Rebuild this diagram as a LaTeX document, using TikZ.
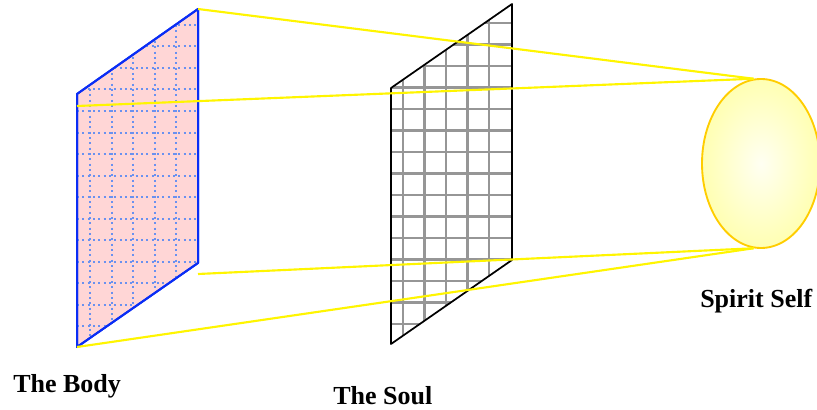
\documentclass[tikz,border=0pt]{standalone}
\usepackage{fontspec}
\setmainfont{Liberation Serif}
\usepackage{xcolor}
\usetikzlibrary{shapes.geometric}
\definecolor{bodyblue}{RGB}{10,45,245}
\definecolor{bodypink}{RGB}{255,214,214}
\definecolor{dotblue}{RGB}{105,145,240}
\definecolor{soulgray}{RGB}{150,150,150}
\definecolor{rayyellow}{RGB}{255,245,0}
\definecolor{spiritedge}{RGB}{255,205,0}
\tikzset{
  bodypanel/.style={draw=bodyblue, fill=bodypink, line width=1.5pt, line join=round},
  bodygrid/.style={dotblue, line width=1.5pt, dash pattern=on 1.6pt off 2.4pt},
  soulpanel/.style={draw=black, line width=1.3pt, line join=round},
  soulgrid/.style={soulgray, line width=1.8pt},
  ray/.style={rayyellow, line width=1.6pt},
  spiritball/.style={ellipse, draw=spiritedge, line width=1.4pt, inner color=yellow!5,
    outer color=yellow!30, minimum width=88.5pt, minimum height=126.75pt, inner sep=0pt},
  caption/.style={font=\fontsize{19.5}{23}\selectfont\bfseries, anchor=base west, inner sep=0pt},
}

\begin{document}
\begin{tikzpicture}[x=0.75pt, y=-0.75pt]
  \useasboundingbox (0,0) rectangle (817,410);

  % the body
  \coordinate (body-tl) at (77,94);
  \coordinate (body-tr) at (198,9);
  \coordinate (body-br) at (198,263);
  \coordinate (body-bl) at (77,347);
  \draw[bodypanel] (body-tl) -- (body-tr) -- (body-br) -- (body-bl) -- cycle;
  \begin{scope}
    \clip (body-tl) -- (body-tr) -- (body-br) -- (body-bl) -- cycle;
    \foreach \k in {0,...,15}
      \draw[bodygrid] (77,25+21.5*\k) -- (198,25+21.5*\k);
    \foreach \k in {0,...,4}
      \draw[bodygrid] (90+21.5*\k,9) -- (90+21.5*\k,347);
  \end{scope}
  \draw[bodypanel, fill=none] (body-tl) -- (body-tr) -- (body-br) -- (body-bl) -- cycle;

  % the soul
  \coordinate (soul-tl) at (391,88);
  \coordinate (soul-tr) at (512,4);
  \coordinate (soul-br) at (512,260);
  \coordinate (soul-bl) at (391,344);
  \begin{scope}
    \clip (soul-tl) -- (soul-tr) -- (soul-br) -- (soul-bl) -- cycle;
    \foreach \k in {0,...,15}
      \draw[soulgrid] (391,23+21.5*\k) -- (512,23+21.5*\k);
    \foreach \k in {0,...,4}
      \draw[soulgrid] (403+21.5*\k,4) -- (403+21.5*\k,344);
  \end{scope}
  \draw[soulpanel] (soul-tl) -- (soul-tr) -- (soul-br) -- (soul-bl) -- cycle;

  % the spirit
  \node[spiritball] (spirit) at (761,163.5) {};

  % rays
  \coordinate (body-l) at (77,106);
  \coordinate (body-r) at (198,274);
  \draw[ray] (body-tr) -- (spirit.95);
  \draw[ray] (body-l) -- (spirit.95);
  \draw[ray] (body-r) -- (spirit.265);
  \draw[ray] (body-bl) -- (spirit.265);

  \node[caption] (body-label) at (13,392) {The Body};
  \node[caption] (soul-label) at (333,404) {The Soul};
  \node[caption] (spirit-label) at (700,307) {Spirit Self};
\end{tikzpicture}
\end{document}
